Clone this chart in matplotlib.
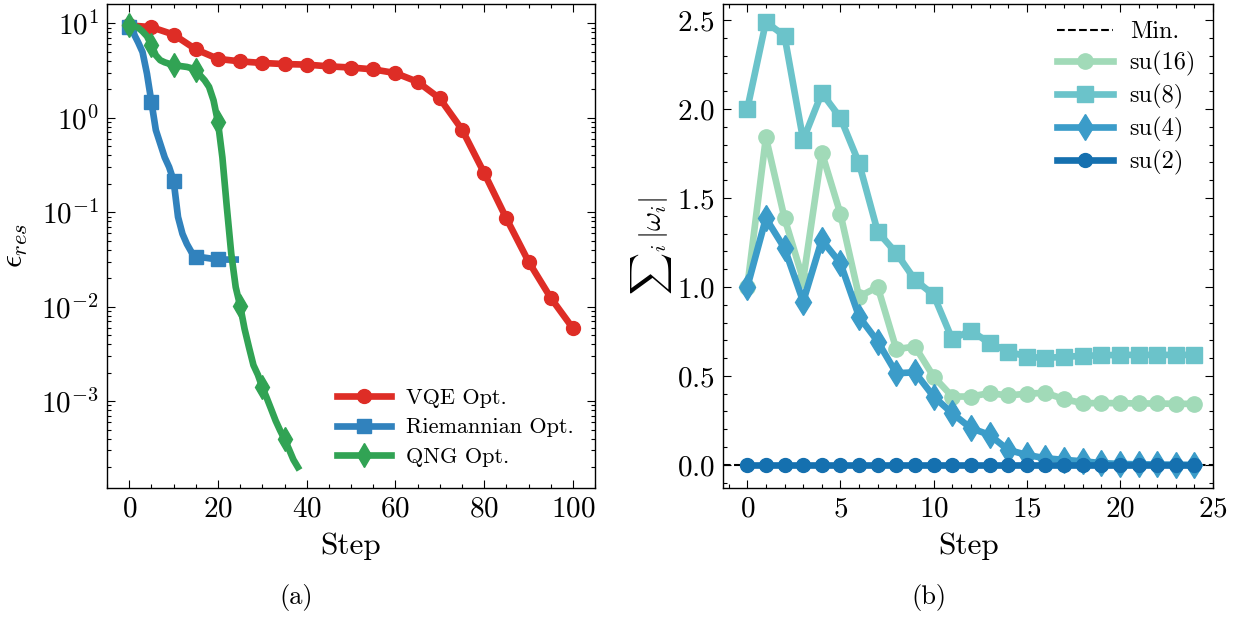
import numpy as np
import matplotlib
matplotlib.use("Agg")
import matplotlib.pyplot as plt
from matplotlib.ticker import MultipleLocator, LogLocator, NullFormatter

# LaTeX-like look with the Computer Modern fonts shipped by matplotlib
plt.rcParams['font.family'] = 'serif'
plt.rcParams['font.serif'] = ['cmr10', 'DejaVu Serif']
plt.rcParams['mathtext.fontset'] = 'cm'
plt.rcParams['axes.formatter.use_mathtext'] = True
plt.rcParams['axes.unicode_minus'] = False

# ---- panel (a) data ----
vqe_steps = list(range(0, 101, 5))
vqe = [9.5, 9.1, 7.6, 5.3, 4.2, 3.95, 3.8, 3.7, 3.65, 3.5, 3.4, 3.25, 2.97,
       2.4, 1.6, 0.75, 0.26, 0.086, 0.030, 0.0124, 0.0059]

riem_steps = list(range(0, 25))
riem = [9.1, 7.8, 6.3, 4.96, 2.93, 1.47, 0.74, 0.53, 0.38, 0.30, 0.216,
        0.089, 0.059, 0.046, 0.038, 0.0338, 0.0335, 0.033, 0.0325, 0.032,
        0.0317, 0.0316, 0.0315, 0.0315, 0.0315]

qng_steps = list(range(0, 39))
qng = [9.5, 9.3, 9.0, 8.2, 7.3, 5.85, 4.58, 4.06, 3.86, 3.73, 3.59, 3.55,
       3.5, 3.45, 3.35, 3.17, 2.81, 2.49, 2.12, 1.53, 0.90, 0.38, 0.113,
       0.0363, 0.0161, 0.0102, 0.0058, 0.0037, 0.0024, 0.0019, 0.0014,
       0.00108, 0.00082, 0.00062, 0.00049, 0.000395, 0.00031, 0.00024, 0.0002]

# ---- panel (b) data ----
steps_b = list(range(0, 25))
su16 = [1.0, 1.84, 1.386, 1.04, 1.755, 1.41, 0.945, 1.0, 0.65, 0.665, 0.496,
        0.384, 0.384, 0.403, 0.39, 0.40, 0.405, 0.369, 0.347, 0.347, 0.347,
        0.345, 0.345, 0.343, 0.343]
su8 = [2.0, 2.49, 2.41, 1.826, 2.09, 1.95, 1.695, 1.31, 1.19, 1.04, 0.955,
       0.706, 0.755, 0.684, 0.637, 0.608, 0.60, 0.608, 0.612, 0.616, 0.618,
       0.618, 0.618, 0.618, 0.618]
su4 = [1.0, 1.386, 1.217, 0.918, 1.264, 1.133, 0.833, 0.693, 0.515, 0.52,
       0.384, 0.29, 0.206, 0.169, 0.084, 0.056, 0.037, 0.028, 0.02, 0.01,
       0.005, 0.003, 0.002, 0.001, 0.0]
su2 = [0.0] * 25

fig = plt.figure(figsize=(12.46, 6.17), dpi=100)
ax1 = fig.add_axes([0.0859, 0.2091, 0.3917, 0.7844])
ax2 = fig.add_axes([0.5803, 0.2091, 0.3933, 0.7844])

lw = 4.8
ax1.plot(vqe_steps, vqe, color='#de2d26', lw=lw, marker='o', ms=10,
         label='VQE Opt.')
ax1.plot(riem_steps, riem, color='#3182bd', lw=lw, marker='s', ms=10.5,
         markevery=5, label='Riemannian Opt.')
ax1.plot(qng_steps, qng, color='#31a354', lw=lw, marker='d', ms=12.5,
         markevery=5, label='QNG Opt.')
ax1.set_yscale('log')
ax1.set_xlim(-5, 105)
ax1.set_ylim(10**-3.92, 10**1.204)
ax1.xaxis.set_major_locator(MultipleLocator(20))
ax1.xaxis.set_minor_locator(MultipleLocator(5))
ax1.yaxis.set_major_locator(LogLocator(base=10, numticks=10))
ax1.yaxis.set_minor_locator(LogLocator(base=10, subs=np.arange(2, 10), numticks=20))
ax1.yaxis.set_minor_formatter(NullFormatter())
ax1.set_xlabel('Step', fontsize=22.5, labelpad=7)
ax1.set_ylabel(r'$\epsilon_{res}$', fontsize=23, labelpad=8)
ax1.legend(loc='lower right', frameon=False, fontsize=16, handlelength=2.4,
           borderaxespad=0.55, labelspacing=0.45, handletextpad=0.7)

colors_b = ['#a1dab8', '#6bc3ca', '#3b9cc9', '#1570af']
ax2.axhline(0, color='black', ls='--', lw=1.5, zorder=1, label='Min.')
ax2.plot(steps_b, su16, color=colors_b[0], lw=lw, marker='o', ms=11,
         label='su(16)')
ax2.plot(steps_b, su8, color=colors_b[1], lw=lw, marker='s', ms=11,
         label='su(8)')
ax2.plot(steps_b, su4, color=colors_b[2], lw=lw, marker='d', ms=13,
         label='su(4)')
ax2.plot(steps_b, su2, color=colors_b[3], lw=lw, marker='o', ms=10,
         label='su(2)')
ax2.set_xlim(-1.3, 25)
ax2.set_ylim(-0.13, 2.59)
ax2.xaxis.set_major_locator(MultipleLocator(5))
ax2.xaxis.set_minor_locator(MultipleLocator(1))
ax2.yaxis.set_major_locator(MultipleLocator(0.5))
ax2.yaxis.set_minor_locator(MultipleLocator(0.1))
ax2.set_xlabel('Step', fontsize=22.5, labelpad=7)
ax2.set_ylabel(r'${\sum}_i\,|\omega_i|$', fontsize=21, labelpad=2)
ax2.legend(loc='upper right', frameon=False, fontsize=17.5, handlelength=2.3,
           borderaxespad=0.3, labelspacing=0.32, handletextpad=0.7)

for ax in (ax1, ax2):
    ax.tick_params(which='both', direction='in', top=True, right=True,
                   labelsize=21, width=0.8, pad=6)
    ax.tick_params(which='major', length=6)
    ax.tick_params(which='minor', length=3)
    for sp in ax.spines.values():
        sp.set_linewidth(1.0)

fig.text(0.238, 0.031, '(a)', ha='center', va='center', fontsize=19)
fig.text(0.7456, 0.031, '(b)', ha='center', va='center', fontsize=19)

fig.savefig('out.png', dpi=100)
